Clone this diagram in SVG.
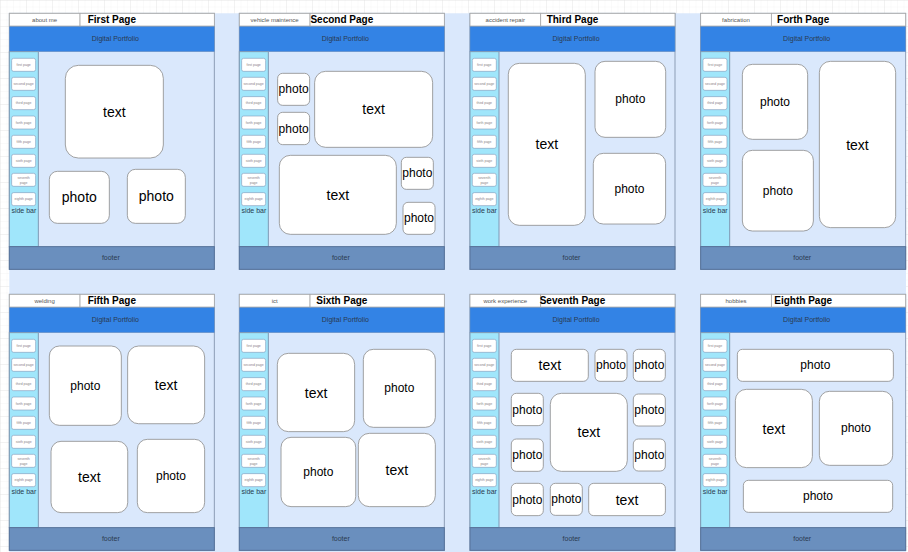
<svg xmlns="http://www.w3.org/2000/svg" xmlns:xlink="http://www.w3.org/1999/xlink" width="908" height="552" viewBox="0 0 908 552">
<style>
text{font-family:"Liberation Sans",Arial,sans-serif;}
.frame{fill:#dae8fc;stroke:#8c9db5;stroke-width:1;}
.hdr{fill:#3383e5;stroke:#6a8fbe;stroke-width:0.6;}
.side{fill:#a0e6fb;stroke:#7e99b4;stroke-width:1;}
.foot{fill:#6a8fbe;stroke:#56739a;stroke-width:1;}
.btn{fill:#ffffff;stroke:#7f98b8;stroke-width:0.6;}
.btxt{font-size:3.5px;fill:#8a7f88;text-anchor:middle;}
.lbl{fill:#ffffff;stroke:#a8a8a8;stroke-width:0.8;}
.ltxt{font-size:6px;fill:#555;text-anchor:middle;}
.ttl{font-size:10px;font-weight:bold;fill:#000;text-anchor:middle;}
.htxt{font-size:7px;fill:#2a3a50;text-anchor:middle;}
.stxt{font-size:7px;fill:#2a3a50;text-anchor:middle;}
.box{fill:#ffffff;stroke:#8a8a8a;stroke-width:0.8;}
.t14{font-size:14px;fill:#000;text-anchor:middle;dominant-baseline:central;}
.t12{font-size:12px;fill:#000;text-anchor:middle;dominant-baseline:central;}
</style>
<defs>
<pattern id="gridMinor" width="6.5" height="6.5" patternUnits="userSpaceOnUse">
<path d="M6.5 0H0V6.5" fill="none" stroke="#efefef" stroke-width="0.6"/>
</pattern>
<pattern id="gridMajor" width="26" height="26" patternUnits="userSpaceOnUse">
<rect width="26" height="26" fill="url(#gridMinor)"/>
<path d="M26 0H0V26" fill="none" stroke="#e2e2e2" stroke-width="0.7"/>
</pattern>
<g id="chrome">
<rect class="frame" x="0" y="0" width="205" height="256"/>
<rect class="hdr" x="0" y="12.7" width="205" height="25.6"/>
<text class="htxt" x="106" y="27.8">Digital Portfolio</text>
<rect class="side" x="0" y="38.3" width="29" height="195"/>
<rect class="btn" x="2.3" y="45" width="24" height="13" rx="2"/>
<text class="btxt" x="14.3" y="52.7">first page</text>
<rect class="btn" x="2.3" y="64" width="24" height="13" rx="2"/>
<text class="btxt" x="14.3" y="71.7">second page</text>
<rect class="btn" x="2.3" y="83.3" width="24" height="13" rx="2"/>
<text class="btxt" x="14.3" y="91">third page</text>
<rect class="btn" x="2.3" y="102.7" width="24" height="13" rx="2"/>
<text class="btxt" x="14.3" y="110.4">forth page</text>
<rect class="btn" x="2.3" y="122" width="24" height="13" rx="2"/>
<text class="btxt" x="14.3" y="129.7">fifth page</text>
<rect class="btn" x="2.3" y="141" width="24" height="13" rx="2"/>
<text class="btxt" x="14.3" y="148.7">sixth page</text>
<rect class="btn" x="2.3" y="160" width="24" height="13" rx="2"/>
<text class="btxt" x="14.3" y="165.6">seventh</text>
<text class="btxt" x="14.3" y="170.2">page</text>
<rect class="btn" x="2.3" y="179.3" width="24" height="13" rx="2"/>
<text class="btxt" x="14.3" y="187">eighth page</text>
<text class="stxt" x="14.5" y="199.5">side bar</text>
<rect class="foot" x="0" y="233.3" width="205" height="22.7"/>
<text class="htxt" x="101.5" y="246.3">footer</text>
<rect class="lbl" x="0" y="0" width="70.7" height="12.7"/>
<rect class="lbl" x="70.7" y="0" width="134.3" height="12.7"/>
</g>
</defs>

<rect x="0" y="0" width="908" height="552" fill="#ffffff"/>
<rect x="0" y="0" width="908" height="552" fill="url(#gridMajor)"/>
<rect x="9.3" y="13.3" width="896.7" height="538.7" fill="#dae8fc"/>

<g id="page1" transform="translate(9.33,13.33)">
<use xlink:href="#chrome"/>
<text class="ltxt" x="35.3" y="8.8">about me</text>
<text class="ttl" x="102.5" y="9.6">First Page</text>
<rect class="box" x="56" y="52" width="98" height="92.7" rx="13"/><text class="t14" x="105" y="98.3">text</text>
<rect class="box" x="40" y="158" width="60" height="52" rx="8"/><text class="t14" x="70" y="184">photo</text>
<rect class="box" x="118" y="156" width="58" height="54" rx="8"/><text class="t14" x="147" y="183">photo</text>
</g>

<g id="page2" transform="translate(239.33,13.33)">
<use xlink:href="#chrome"/>
<text class="ltxt" x="35.3" y="8.8">vehicle maintence</text>
<text class="ttl" x="102.5" y="9.6">Second Page</text>
<rect class="box" x="38.3" y="60" width="32" height="32" rx="5"/><text class="t12" x="54.3" y="76">photo</text>
<rect class="box" x="38.3" y="99" width="32" height="32.3" rx="5"/><text class="t12" x="54.3" y="115.2">photo</text>
<rect class="box" x="75.3" y="58" width="118" height="76" rx="11"/><text class="t14" x="134.3" y="96">text</text>
<rect class="box" x="40" y="142" width="117" height="79" rx="11"/><text class="t14" x="98.5" y="181.5">text</text>
<rect class="box" x="162" y="144" width="32" height="32" rx="5"/><text class="t12" x="178" y="160">photo</text>
<rect class="box" x="163.7" y="189" width="32" height="32" rx="5"/><text class="t12" x="179.7" y="205">photo</text>
</g>

<g id="page3" transform="translate(470,13.33)">
<use xlink:href="#chrome"/>
<text class="ltxt" x="35.3" y="8.8">accident repair</text>
<text class="ttl" x="102.5" y="9.6">Third Page</text>
<rect class="box" x="38.3" y="50" width="77" height="162" rx="11"/><text class="t14" x="76.8" y="131">text</text>
<rect class="box" x="125" y="48" width="70.7" height="76" rx="10"/><text class="t12" x="160.3" y="86">photo</text>
<rect class="box" x="123.3" y="140" width="72.3" height="70.7" rx="10"/><text class="t12" x="159.5" y="175.3">photo</text>
</g>

<g id="page4" transform="translate(700.67,13.33)">
<use xlink:href="#chrome"/>
<text class="ltxt" x="35.3" y="8.8">fabrication</text>
<text class="ttl" x="102.5" y="9.6">Forth Page</text>
<rect class="box" x="41.7" y="51" width="65.3" height="75" rx="10"/><text class="t12" x="74.3" y="88.5">photo</text>
<rect class="box" x="41.7" y="137" width="71" height="80.7" rx="10"/><text class="t12" x="77.2" y="177.3">photo</text>
<rect class="box" x="118.7" y="48" width="76.3" height="166.3" rx="11"/><text class="t14" x="156.8" y="131.2">text</text>
</g>

<g id="page5" transform="translate(9.33,294.33)">
<use xlink:href="#chrome"/>
<text class="ltxt" x="35.3" y="8.8">welding</text>
<text class="ttl" x="102.5" y="9.6">Fifth Page</text>
<rect class="box" x="40" y="51.7" width="72" height="79.3" rx="10"/><text class="t12" x="76" y="91.3">photo</text>
<rect class="box" x="118.3" y="51.7" width="77" height="77.7" rx="11"/><text class="t14" x="156.8" y="90.5">text</text>
<rect class="box" x="41.7" y="147" width="76.7" height="71.3" rx="10"/><text class="t14" x="80" y="182.7">text</text>
<rect class="box" x="128" y="145" width="67.3" height="73.3" rx="10"/><text class="t12" x="161.7" y="181.7">photo</text>
</g>

<g id="page6" transform="translate(239.33,294.33)">
<use xlink:href="#chrome"/>
<text class="ltxt" x="35.3" y="8.8">ict</text>
<text class="ttl" x="102.5" y="9.6">Sixth Page</text>
<rect class="box" x="38" y="59" width="77.3" height="78.3" rx="11"/><text class="t14" x="76.7" y="98.2">text</text>
<rect class="box" x="124" y="55" width="72" height="78" rx="10"/><text class="t12" x="160" y="94">photo</text>
<rect class="box" x="41.7" y="143" width="74.7" height="69.3" rx="10"/><text class="t12" x="79" y="177.7">photo</text>
<rect class="box" x="119" y="139" width="77" height="73.3" rx="11"/><text class="t14" x="157.5" y="175.7">text</text>
</g>

<g id="page7" transform="translate(470,294.33)">
<use xlink:href="#chrome"/>
<text class="ltxt" x="35.3" y="8.8">work experience</text>
<text class="ttl" x="102.5" y="9.6">Seventh Page</text>
<rect class="box" x="41.3" y="55" width="77" height="32" rx="5"/><text class="t14" x="79.8" y="71">text</text>
<rect class="box" x="125" y="55" width="32" height="32" rx="5"/><text class="t12" x="141" y="71">photo</text>
<rect class="box" x="163.3" y="55" width="32" height="32" rx="5"/><text class="t12" x="179.3" y="71">photo</text>
<rect class="box" x="41.3" y="99" width="32" height="32.3" rx="5"/><text class="t12" x="57.3" y="115.2">photo</text>
<rect class="box" x="80.3" y="99" width="77" height="78" rx="11"/><text class="t14" x="118.8" y="138">text</text>
<rect class="box" x="163.3" y="99.7" width="32" height="32" rx="5"/><text class="t12" x="179.3" y="115.7">photo</text>
<rect class="box" x="41.3" y="144.7" width="32" height="32.3" rx="5"/><text class="t12" x="57.3" y="160.8">photo</text>
<rect class="box" x="163.3" y="144.7" width="32" height="32" rx="5"/><text class="t12" x="179.3" y="160.7">photo</text>
<rect class="box" x="41.3" y="189" width="32" height="32.3" rx="5"/><text class="t12" x="57.3" y="205.2">photo</text>
<rect class="box" x="80.3" y="189" width="32" height="32" rx="5"/><text class="t12" x="96.3" y="205">photo</text>
<rect class="box" x="118.7" y="189" width="76.7" height="32.3" rx="5"/><text class="t14" x="157" y="205.2">text</text>
</g>

<g id="page8" transform="translate(700.67,294.33)">
<use xlink:href="#chrome"/>
<text class="ltxt" x="35.3" y="8.8">hobbies</text>
<text class="ttl" x="102.5" y="9.6">Eighth Page</text>
<rect class="box" x="36.7" y="55" width="156" height="32" rx="5"/><text class="t12" x="114.7" y="71">photo</text>
<rect class="box" x="34.7" y="95" width="77" height="78.3" rx="11"/><text class="t14" x="73.2" y="134.2">text</text>
<rect class="box" x="118.7" y="97" width="73.3" height="74" rx="10"/><text class="t12" x="155.3" y="134">photo</text>
<rect class="box" x="42.7" y="186" width="149.3" height="32" rx="5"/><text class="t12" x="117.3" y="202">photo</text>
</g>

<g id="connectors"></g>
</svg>
